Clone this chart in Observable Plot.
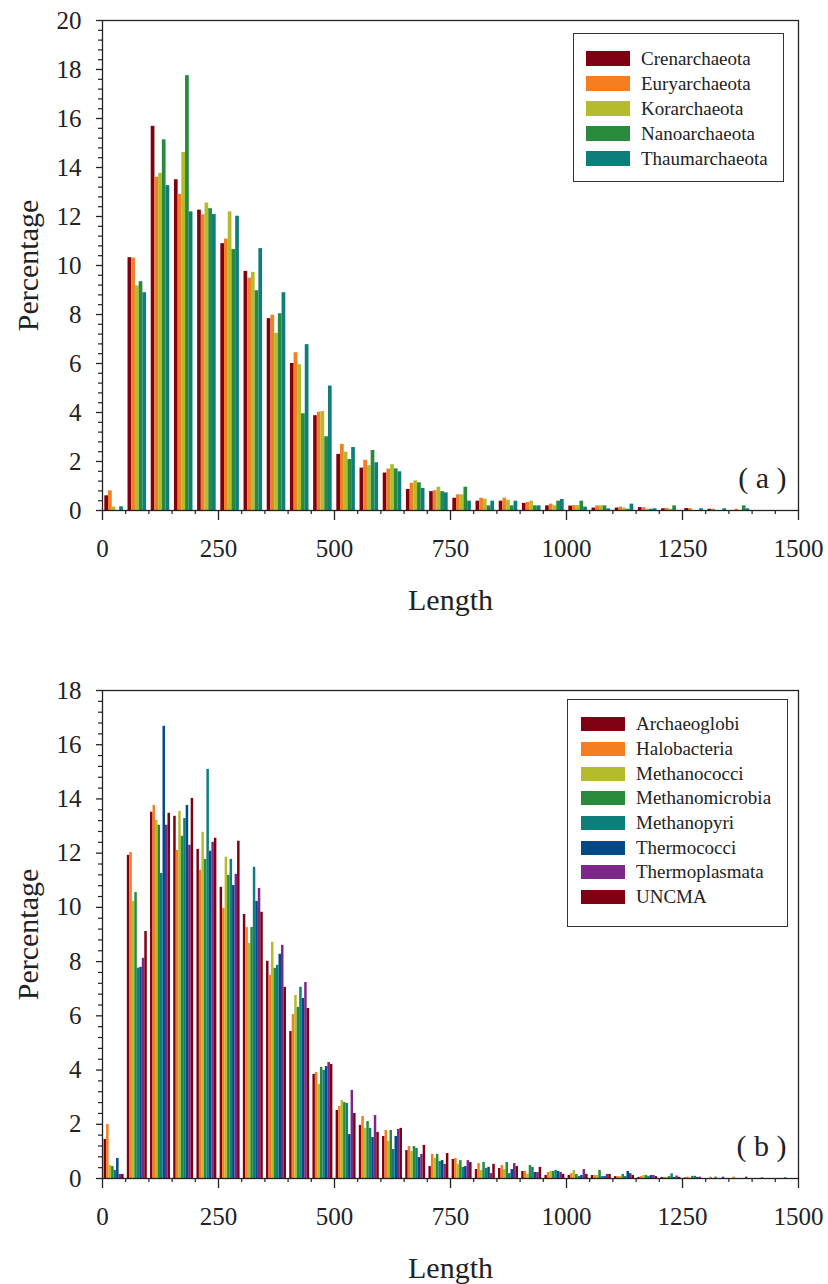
<!DOCTYPE html>
<html>
<head>
<meta charset="utf-8">
<script src="https://cdn.jsdelivr.net/npm/d3@7"></script>
<script src="https://cdn.jsdelivr.net/npm/@observablehq/plot@0.6"></script>
<style>
  body { margin: 0; background: #fff; }
  #chart { position: relative; width: 828px; height: 1284px; font-family: "Liberation Serif", serif; color: #222; }
  #chart > svg { display: block; }
  .legend { position: absolute; box-sizing: border-box; border: 1px solid #333; background: #fff; }
  .legend > div { margin: 0 !important; font-family: "Liberation Serif", serif !important; font-size: 19px !important; color: #222 !important; }
  .legend > div > div { padding: 0 !important; margin: 0 !important; display: flex !important; align-items: center !important; }
  .legend > div > div > svg { margin-right: 11px !important; }
  #legA { left: 573px; top: 33px; width: 211px; height: 149px; padding: 12px 0 0 12px; }
  #legA > div > div { height: 25px; }
  #legB { left: 567px; top: 699px; width: 221px; height: 228px; padding: 12px 0 0 13px; }
  #legB > div > div { height: 24.7px; }
</style>
</head>
<body>
<div id="chart"></div>
<script>
// Length bins (left edge of each 50-residue bin)
const bins = [0, 50, 100, 150, 200, 250, 300, 350, 400, 450, 500, 550, 600, 650, 700,
              750, 800, 850, 900, 950, 1000, 1050, 1100, 1150, 1200, 1250, 1300, 1350, 1400, 1450];
const xTicks = [0, 250, 500, 750, 1000, 1250, 1500];
const yTicksA = [0, 2, 4, 6, 8, 10, 12, 14, 16, 18, 20];
const yTicksB = [0, 2, 4, 6, 8, 10, 12, 14, 16, 18];

// (a) phyla
const phyla = ["Crenarchaeota", "Euryarchaeota", "Korarchaeota", "Nanoarchaeota", "Thaumarchaeota"];
const phylaColors = ["#7f0011", "#f47e20", "#b4bc2c", "#2a8a3c", "#0e7e7b"];
const crenarchaeota = [0.6, 10.32, 15.68, 13.5, 12.26, 10.89, 9.76, 7.83, 6.0, 3.87, 2.29, 1.73, 1.53, 0.86, 0.77,
                       0.50, 0.38, 0.38, 0.29, 0.19, 0.18, 0.10, 0.10, 0.12, 0.07, 0.08, 0.05, 0, 0, 0];
const euryarchaeota = [0.8, 10.3, 13.6, 12.9, 12.07, 11.08, 9.48, 7.97, 6.44, 4.01, 2.7, 2.05, 1.69, 1.11, 0.81,
                       0.64, 0.50, 0.50, 0.33, 0.26, 0.20, 0.19, 0.14, 0.12, 0.08, 0.08, 0.05, 0.05, 0, 0];
const korarchaeota = [0.14, 9.17, 13.76, 14.61, 12.55, 12.19, 9.72, 7.23, 5.95, 4.04, 2.38, 1.83, 1.87, 1.21, 0.95,
                      0.64, 0.46, 0.42, 0.38, 0.19, 0.20, 0.19, 0.10, 0.05, 0.05, 0, 0, 0, 0, 0];
const nanoarchaeota = [0, 9.34, 15.13, 17.75, 12.32, 10.65, 8.97, 8.03, 3.95, 3.01, 2.08, 2.45, 1.70, 1.13, 0.77,
                       0.95, 0.19, 0.19, 0.19, 0.38, 0.38, 0.19, 0.05, 0.05, 0.19, 0, 0, 0.19, 0, 0];
const thaumarchaeota = [0.15, 8.89, 13.26, 12.19, 12.08, 12.01, 10.69, 8.89, 6.77, 5.08, 2.57, 1.95, 1.58, 0.90, 0.72,
                        0.38, 0.38, 0.38, 0.19, 0.45, 0.14, 0.07, 0.26, 0.07, 0, 0.07, 0.07, 0.07, 0, 0];

// (b) classes
const classes = ["Archaeoglobi", "Halobacteria", "Methanococci", "Methanomicrobia", "Methanopyri",
                 "Thermococci", "Thermoplasmata", "UNCMA"];
const classColors = ["#7f0011", "#f47e20", "#b4bc2c", "#2a8a3c", "#0e7e7b", "#014a86", "#7c2789", "#7f0011"];
const archaeoglobi = [1.44, 11.92, 13.51, 13.36, 12.14, 10.74, 9.74, 8.01, 5.42, 3.84, 2.51, 1.96, 1.55, 1.03, 0.44,
                      0.70, 0.33, 0.37, 0.26, 0.11, 0.11, 0.11, 0.07, 0.04, 0.04, 0.02, 0, 0, 0, 0];
const halobacteria = [1.99, 12.03, 13.76, 12.10, 11.37, 9.96, 9.26, 7.49, 6.05, 3.91, 2.66, 2.29, 1.77, 1.18, 0.89,
                      0.74, 0.55, 0.48, 0.26, 0.22, 0.18, 0.11, 0.07, 0.07, 0.04, 0.05, 0.05, 0.05, 0, 0];
const methanococci = [0.48, 10.22, 13.21, 13.54, 12.77, 11.85, 8.67, 8.71, 6.75, 3.47, 2.88, 1.85, 1.37, 1.00, 0.74,
                      0.52, 0.30, 0.33, 0.15, 0.26, 0.30, 0.11, 0.07, 0.11, 0.04, 0.02, 0, 0, 0, 0];
const methanomicrobia = [0.44, 10.55, 13.03, 12.62, 11.77, 11.18, 9.26, 7.75, 6.31, 4.10, 2.80, 2.10, 1.77, 1.18, 0.89,
                         0.66, 0.59, 0.59, 0.48, 0.26, 0.15, 0.30, 0.15, 0.11, 0.07, 0.08, 0.05, 0, 0.03, 0.03];
const methanopyri = [0.30, 7.76, 11.25, 13.28, 15.09, 11.77, 11.48, 7.86, 7.05, 3.99, 2.77, 1.85, 1.07, 1.11, 0.63,
                     0.41, 0.37, 0.18, 0.41, 0.30, 0.07, 0.07, 0.07, 0.07, 0.17, 0.08, 0, 0, 0, 0];
const thermococci = [0.74, 7.79, 16.68, 13.76, 12.07, 10.81, 10.22, 8.27, 6.64, 4.13, 1.62, 1.51, 1.55, 0.77, 0.66,
                     0.44, 0.41, 0.33, 0.22, 0.26, 0.11, 0.07, 0.26, 0.11, 0.04, 0.04, 0, 0, 0, 0];
const thermoplasmata = [0.15, 8.12, 13.03, 12.29, 12.40, 11.22, 10.70, 8.60, 7.23, 4.28, 3.25, 2.32, 1.81, 0.89, 0.52,
                        0.66, 0.18, 0.55, 0.22, 0.22, 0.33, 0.15, 0.18, 0.11, 0.09, 0.05, 0.05, 0.05, 0, 0];
const uncma = [0.15, 9.11, 13.47, 14.02, 12.55, 12.44, 9.82, 7.05, 6.27, 4.21, 2.40, 1.70, 1.85, 1.22, 0.92,
               0.59, 0.52, 0.44, 0.41, 0.15, 0.15, 0.15, 0.11, 0.07, 0.04, 0, 0, 0, 0, 0];

const ink = "#222";
const serif = "Liberation Serif";

// Long-format rows: each bar sits in its bin, side by side by series.
function toRows(names, seriesValues, offset, barWidth) {
  const rows = [];
  names.forEach((name, i) => {
    seriesValues[i].forEach((v, b) => {
      const x1 = bins[b] + offset + i * barWidth;
      rows.push({name, value: v, x1, x2: x1 + barWidth});
    });
  });
  return rows;
}

function panel({names, colors, seriesValues, offset, barWidth, yMax, yTicks, tag, height, marginTop, marginBottom}) {
  const rows = toRows(names, seriesValues, offset, barWidth);
  const yMinor = d3.range(0, yMax + 1e-9, 0.4).filter(t => Math.abs(t / 2 - Math.round(t / 2)) > 1e-6);
  const xMinor = bins.concat([1500]).filter(t => t % 250 !== 0);
  return Plot.plot({
    width: 828,
    height,
    marginLeft: 102,
    marginRight: 30,
    marginTop,
    marginBottom,
    style: {fontFamily: serif, color: ink, background: "#fff", overflow: "visible"},
    x: {domain: [0, 1500]},
    y: {domain: [0, yMax]},
    color: {domain: names, range: colors},
    marks: [
      Plot.rect(rows, {x1: "x1", x2: "x2", y1: 0, y2: "value", fill: "name"}),
      Plot.frame({stroke: ink, strokeWidth: 1.3}),
      Plot.axisY(yMinor, {tickSize: 4, text: null, label: null, stroke: ink, strokeWidth: 1.2}),
      Plot.axisY(yTicks, {tickSize: 6, tickPadding: 15, fontSize: 25, label: null, stroke: ink, strokeWidth: 1.3,
                          tickFormat: d => `${d}`}),
      Plot.axisX(xMinor, {tickSize: 4, text: null, label: null, stroke: ink, strokeWidth: 1.2}),
      Plot.axisX(xTicks, {tickSize: 10, tickPadding: 19, fontSize: 25, label: null, stroke: ink, strokeWidth: 1.3,
                          tickFormat: d => `${d}`}),
      Plot.text(["Percentage"], {text: d => d, frameAnchor: "left", textAnchor: "middle", rotate: -90, dx: -74,
                                 fontSize: 30, lineAnchor: "middle", fill: ink}),
      Plot.text(["Length"], {text: d => d, frameAnchor: "bottom", textAnchor: "middle", dy: 90,
                             fontSize: 30, lineAnchor: "middle", fill: ink}),
      Plot.text([tag], {text: d => d, frameAnchor: "bottom-right", textAnchor: "end", dx: -12, dy: -32,
                        fontSize: 30, lineAnchor: "middle", fill: ink})
    ]
  });
}

const chart = document.getElementById("chart");

chart.appendChild(panel({
  names: phyla, colors: phylaColors,
  seriesValues: [crenarchaeota, euryarchaeota, korarchaeota, nanoarchaeota, thaumarchaeota],
  offset: 5, barWidth: 8, yMax: 20, yTicks: yTicksA, tag: "( a )",
  height: 640, marginTop: 20, marginBottom: 130
}));

chart.appendChild(panel({
  names: classes, colors: classColors,
  seriesValues: [archaeoglobi, halobacteria, methanococci, methanomicrobia, methanopyri, thermococci, thermoplasmata, uncma],
  offset: 3.5, barWidth: 5.375, yMax: 18, yTicks: yTicksB, tag: "( b )",
  height: 644, marginTop: 50, marginBottom: 106
}));

function addLegend(id, names, colors, swatchHeight) {
  const box = document.createElement("div");
  box.className = "legend";
  box.id = id;
  box.appendChild(Plot.legend({
    color: {domain: names, range: colors},
    legend: "swatches",
    columns: 1,
    swatchWidth: 44,
    swatchHeight,
    style: {fontFamily: serif, fontSize: "19px", color: ink}
  }));
  chart.appendChild(box);
}
addLegend("legA", phyla, phylaColors, 15);
addLegend("legB", classes, classColors, 14);
</script>
</body>
</html>
